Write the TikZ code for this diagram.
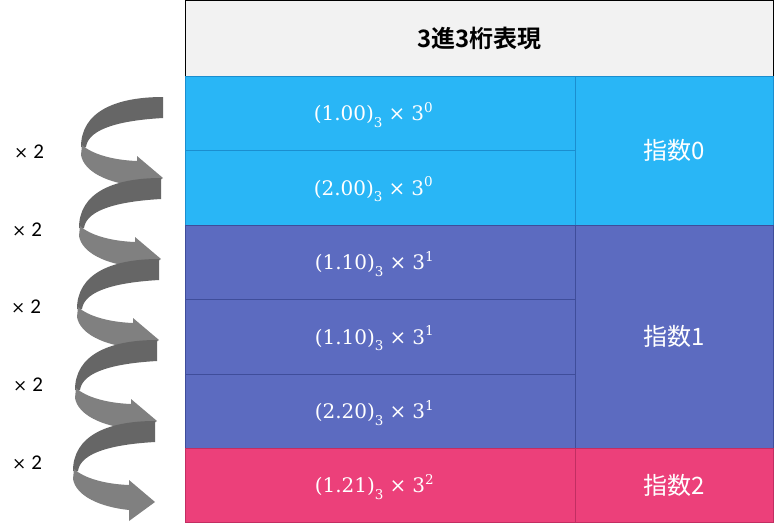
\documentclass[tikz,border=0pt]{standalone}
\usepackage{fontspec}
\newfontfamily\cjk{Noto Sans CJK JP}
\newfontfamily\cjkbold{Noto Sans CJK JP Bold}
\newfontfamily\carlito{Carlito}
\newfontfamily\mserif{DejaVu Serif}
\definecolor{hdrc}{HTML}{F2F2F2}
\definecolor{lblue}{HTML}{29B6F6}
\definecolor{lblueline}{HTML}{1B8ECF}
\definecolor{indc}{HTML}{5C6BC0}
\definecolor{indline}{HTML}{3F4D9A}
\definecolor{pinkc}{HTML}{EC407A}
\definecolor{pinkline}{HTML}{C22E62}
\definecolor{backc}{HTML}{666666}
\definecolor{frontc}{HTML}{808080}
\tikzset{
  cellbox/.style={rectangle, inner sep=0pt, outer sep=0pt, line width=1pt, text=white},
  bluecell/.style={cellbox, fill=lblue, draw=lblueline},
  indcell/.style={cellbox, fill=indc, draw=indline},
  pinkcell/.style={cellbox, fill=pinkc, draw=pinkline},
  leftcol/.style={minimum width=389.5pt},
  rightcol/.style={minimum width=198.5pt},
  mathtxt/.style={text=white, inner sep=0pt, font=\mserif\fontsize{20}{24}\selectfont},
  exptxt/.style={font=\cjk\fontsize{24}{28}\selectfont},
  multlbl/.style={inner sep=0pt},
}
\newcommand{\smallfig}[1]{{\fontsize{13.5}{14}\selectfont #1}}
\newcommand{\mval}[2]{(#1)\raisebox{-0.33em}{\smallfig{3}}\hspace{0.3em}×\hspace{0.3em}3\raisebox{0.42em}{\smallfig{#2}}}
\newcommand{\timestwo}{{\mserif\fontsize{17}{20}\selectfont ×}\hspace{5pt}{\carlito\fontsize{21}{24}\selectfont 2}}
\begin{document}
\begin{tikzpicture}[x=1pt,y=-1pt]
\useasboundingbox (0,0) rectangle (774,523);
\fill[white] (0,0) rectangle (774,523);

% header
\node[rectangle, draw=black, fill=hdrc, line width=1pt, inner sep=0pt, outer sep=0pt,
      minimum width=588pt, minimum height=75.5pt, font=\cjkbold\fontsize{24}{28}\selectfont]
      (hdr) at (479.5,38.25) {3進3桁表現};

% left column cells
\node[bluecell, leftcol, minimum height=74pt] (c1) at (380.25,113) {};
\node[bluecell, leftcol, minimum height=75pt] (c2) at (380.25,187.5) {};
\node[bluecell, rightcol, minimum height=149pt, exptxt] (e0) at (674.25,150.5) {指数0};

\node[indcell, leftcol, minimum height=74pt] (c3) at (380.25,262) {};
\node[indcell, leftcol, minimum height=75pt] (c4) at (380.25,336.5) {};
\node[indcell, leftcol, minimum height=74pt] (c5) at (380.25,411) {};
\node[indcell, rightcol, minimum height=223pt, exptxt] (e1) at (674.25,336.5) {指数1};

\node[pinkcell, leftcol, minimum height=74pt] (c6) at (380.25,485) {};
\node[pinkcell, rightcol, minimum height=74pt, exptxt] (e2) at (674.25,485) {指数2};

% cell formulas
\node[mathtxt] (t1) at ([xshift=-7pt,yshift=-2pt]c1.center) {\mval{1.00}{0}};
\node[mathtxt] (t2) at ([xshift=-7pt,yshift=-2pt]c2.center) {\mval{2.00}{0}};
\node[mathtxt] (t3) at ([xshift=-6pt,yshift=-2pt]c3.center) {\mval{1.10}{1}};
\node[mathtxt] (t4) at ([xshift=-6pt,yshift=-2pt]c4.center) {\mval{1.10}{1}};
\node[mathtxt] (t5) at ([xshift=-6pt,yshift=-2pt]c5.center) {\mval{2.20}{1}};
\node[mathtxt] (t6) at ([xshift=-6pt,yshift=-2pt]c6.center) {\mval{1.21}{2}};

% spiral arrows
\foreach \k in {0,...,4} {
  \begin{scope}[shift={(-2*\k,81*\k)}]
    \fill[backc] (163,97) .. controls (115,97) and (81,112) .. (81,147)
                 -- (86,147) .. controls (88,132) and (110,121) .. (163,118) -- cycle;
    \fill[frontc] (82,145) .. controls (92,154) and (112,160) .. (137,161)
                 -- (137,156) -- (163,178) -- (137,197) -- (137,186)
                 .. controls (108,183) and (84,172) .. (81,155) -- cycle;
  \end{scope}
}

% multiplier labels
\node[multlbl] (m1) at (29,152) {\timestwo};
\node[multlbl] (m2) at (27,230) {\timestwo};
\node[multlbl] (m3) at (26,307) {\timestwo};
\node[multlbl] (m4) at (28,385) {\timestwo};
\node[multlbl] (m5) at (27,463) {\timestwo};
\end{tikzpicture}
\end{document}
